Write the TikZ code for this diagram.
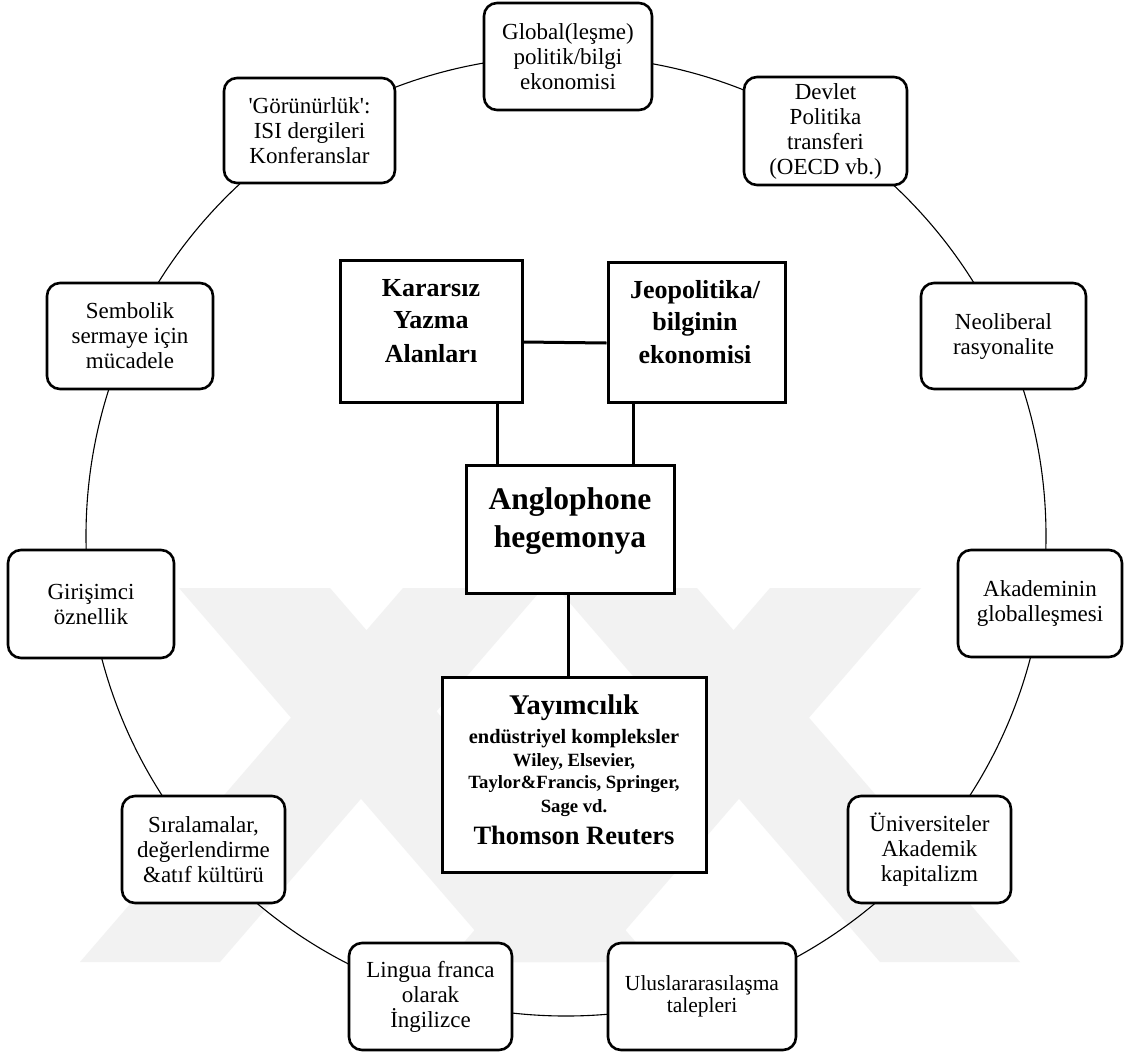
\documentclass[tikz,border=0pt]{standalone}
\usepackage{fontspec}
\setmainfont{Liberation Serif}
\newfontfamily\rawserif{Liberation Serif}
\begin{document}
\begin{tikzpicture}[x=1pt,y=-1pt]
\tikzset{
  ringline/.style={line width=1.1pt},
  roundbox/.style={draw, line width=2.6pt, rounded corners=13pt, fill=white, align=center,
    inner sep=0pt, font=\fontsize{23}{25}\selectfont, minimum height=107pt},
  sqbox/.style={draw, line width=3pt, fill=white, inner sep=0pt},
  link/.style={line width=3pt},
  bline/.style={anchor=base, inner sep=0pt},
  wmark/.style={fill=black!5, draw=none},
}
\useasboundingbox (0,0) rectangle (1124,1053);
\fill[white] (0,0) rectangle (1124,1053);
% faint background watermark
\fill[wmark] (179,588) -- (330,588) -- (653,962) -- (502,962) -- cycle;
\fill[wmark] (80,962) -- (220,962) -- (543,588) -- (403,588) -- cycle;
\fill[wmark] (770,588) -- (921,588) -- (598,962) -- (447,962) -- cycle;
\fill[wmark] (880,962) -- (1020,962) -- (697,588) -- (557,588) -- cycle;
% ring
\coordinate (ring) at (566,536);
\draw[ringline] (ring) circle (480pt);
% outer boxes
\node[roundbox, minimum width=168pt] (glob) at (568,56.5) {Global(leşme)\\politik/bilgi\\ekonomisi};
\node[roundbox, minimum width=163pt, minimum height=108pt] (devlet) at (825.5,131) {Devlet\\Politika\\transferi\\(OECD vb.)};
\node[roundbox, minimum width=171pt, minimum height=105pt, font=\rawserif\fontsize{23}{25}\selectfont] (gorun) at (309.5,130.5) {'Görünürlük':\\ISI dergileri\\Konferanslar};
\node[roundbox, minimum width=165pt, minimum height=106pt] (neo) at (1003.5,336) {Neoliberal\\rasyonalite};
\node[roundbox, minimum width=166pt, minimum height=106pt] (semb) at (130,336) {Sembolik\\sermaye için\\mücadele};
\node[roundbox, minimum width=166pt, minimum height=108pt] (giris) at (91,604) {Girişimci\\öznellik};
\node[roundbox, minimum width=164pt] (akad) at (1040,603.5) {Akademinin\\globalleşmesi};
\node[roundbox, minimum width=163pt] (univ) at (929.5,849.5) {Üniversiteler\\Akademik\\kapitalizm};
\node[roundbox, minimum width=188pt, font=\fontsize{21.5}{22}\selectfont] (ulus) at (702,996.5) {Uluslararasılaşma\\talepleri};
\node[roundbox, minimum width=163pt] (lingua) at (430.5,996.5) {Lingua franca\\olarak\\İngilizce};
\node[roundbox, minimum width=163pt] (sira) at (203.5,849.5) {Sıralamalar,\\değerlendirme\\\&atıf kültürü};
% center boxes
\node[sqbox, minimum width=182pt, minimum height=142pt] (kar) at (431,331) {};
\node[sqbox, minimum width=177pt, minimum height=140pt] (jeo) at (696.5,332) {};
\node[sqbox, minimum width=208pt, minimum height=128pt] (ang) at (570,529) {};
\node[sqbox, minimum width=264pt, minimum height=195pt] (yay) at (574,774.5) {};
% connectors
\draw[link] ([yshift=-11pt]kar.east) -- ([yshift=-11pt]jeo.west);
\draw[link] ([xshift=66pt]kar.south) -- ([xshift=66pt]kar.south |- ang.north);
\draw[link] ([xshift=-63.5pt]jeo.south) -- ([xshift=-63.5pt]jeo.south |- ang.north);
\draw[link] ([xshift=-2pt]ang.south) -- ([xshift=-2pt]ang.south |- yay.north);
% center texts
\begin{scope}[every node/.style={bline, font=\bfseries\fontsize{26}{30}\selectfont}]
\node (kar1) at (431,296) {Kararsız};
\node (kar2) at (431,328) {Yazma};
\node (kar3) at (431,362) {Alanları};
\node (jeo1) at (695,298) {Jeopolitika/};
\node (jeo2) at (695,330) {bilginin};
\node (jeo3) at (695,363) {ekonomisi};
\end{scope}
\begin{scope}[every node/.style={bline, font=\bfseries\fontsize{31.5}{36}\selectfont}]
\node (ang1) at (570,509) {Anglophone};
\node (ang2) at (570,547) {hegemonya};
\end{scope}
\node[bline, font=\bfseries\fontsize{28.5}{32}\selectfont] (yay1) at (574,714) {Yayımcılık};
\node[bline, font=\bfseries\fontsize{20.4}{24}\selectfont] (yay2) at (574,743) {endüstriyel kompleksler};
\node[bline, font=\bfseries\fontsize{18.7}{22}\selectfont] (yay3) at (574,766) {Wiley, Elsevier,};
\node[bline, font=\bfseries\fontsize{18.7}{22}\selectfont] (yay4) at (574,788) {Taylor\&Francis, Springer,};
\node[bline, font=\bfseries\fontsize{18.7}{22}\selectfont] (yay5) at (574,812) {Sage vd.};
\node[bline, font=\bfseries\fontsize{26.5}{30}\selectfont] (yay6) at (574,844) {Thomson Reuters};
\end{tikzpicture}
\end{document}
